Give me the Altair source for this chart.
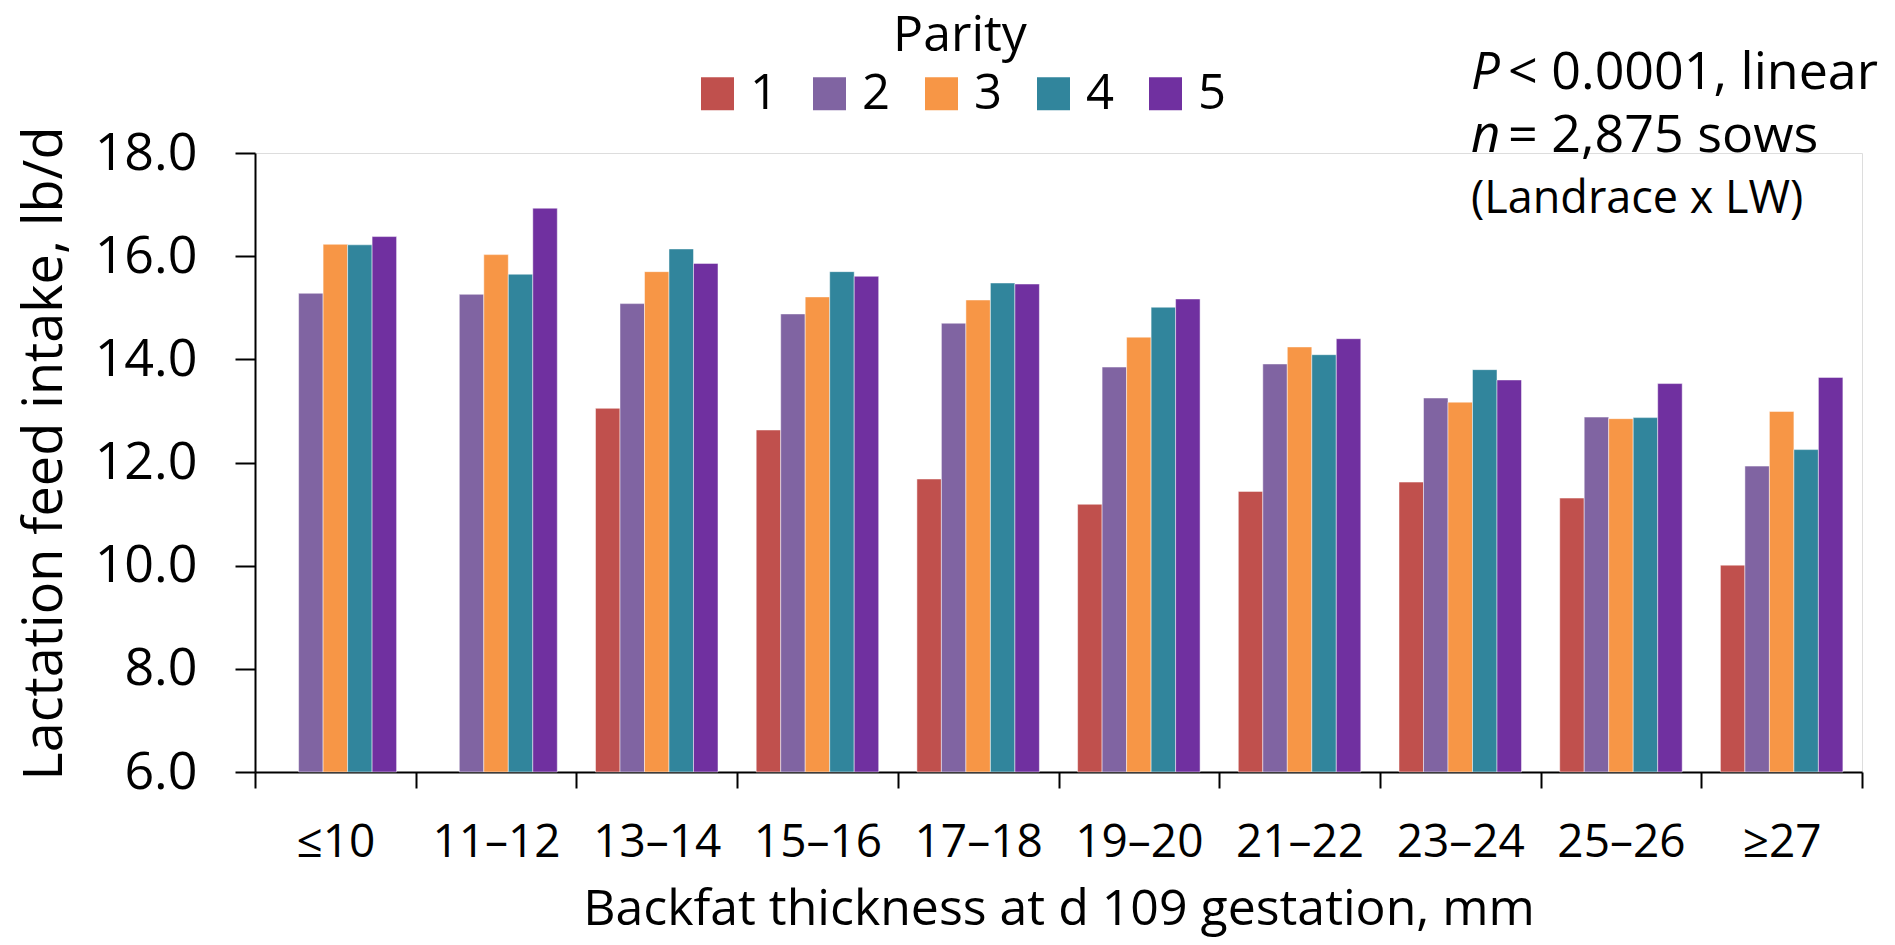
import altair as alt
import pandas as pd

categories = ["≤10", "11–12", "13–14", "15–16", "17–18", "19–20", "21–22", "23–24", "25–26", "≥27"]
parities = ["1", "2", "3", "4", "5"]
parity1 = [None, None, 13.05, 12.63, 11.68, 11.19, 11.44, 11.62, 11.31, 10.01]
parity2 = [15.28, 15.26, 15.08, 14.88, 14.70, 13.85, 13.91, 13.25, 12.88, 11.93]
parity3 = [16.23, 16.03, 15.70, 15.21, 15.15, 14.43, 14.24, 13.17, 12.85, 12.99]
parity4 = [16.22, 15.65, 16.14, 15.70, 15.48, 15.01, 14.09, 13.80, 12.87, 12.25]
parity5 = [16.38, 16.93, 15.86, 15.61, 15.46, 15.17, 14.40, 13.60, 13.53, 13.65]
colors = ["#C0504D", "#8064A2", "#F79646", "#31859C", "#7030A0"]
y_ticks = [6, 8, 10, 12, 14, 16, 18]

series = [parity1, parity2, parity3, parity4, parity5]
rows = []
for p, vals in zip(parities, series):
    for c, v in zip(categories, vals):
        if v is not None:
            rows.append({"cat": c, "parity": p, "value": v})
df = pd.DataFrame(rows)

FONT = "Open Sans"

bars = alt.Chart(df).mark_bar(stroke="white", strokeWidth=0.8, strokeOpacity=0.6).encode(
    x=alt.X(
        "cat:N",
        sort=categories,
        scale=alt.Scale(paddingInner=0, paddingOuter=0),
        axis=alt.Axis(
            title="Backfat thickness at d 109 gestation, mm",
            tickBand="extent",
            labelAngle=0,
            labelFontSize=46,
            labelFont=FONT,
            labelColor="black",
            labelBaseline="alphabetic",
            labelPadding=68,
            tickSize=16,
            tickWidth=2,
            tickColor="black",
            domainColor="black",
            domainWidth=2,
            titleFont=FONT,
            titleFontSize=50,
            titleFontWeight="normal",
            titleColor="black",
            titleBaseline="alphabetic",
            titleY=152,
        ),
    ),
    xOffset=alt.XOffset("parity:N", sort=parities,
                        scale=alt.Scale(paddingInner=0, paddingOuter=0.78)),
    y=alt.Y(
        "value:Q",
        scale=alt.Scale(domain=[6, 18], nice=False, zero=False),
        axis=alt.Axis(
            title="Lactation feed intake, lb/d",
            values=y_ticks,
            format=".1f",
            grid=False,
            labelFontSize=52,
            labelFont=FONT,
            labelColor="black",
            labelPadding=38,
            tickSize=20,
            tickWidth=2,
            tickColor="black",
            domainColor="black",
            domainWidth=2,
            titleFont=FONT,
            titleFontSize=54,
            titleFontWeight="normal",
            titleColor="black",
            titleBaseline="alphabetic",
            titleAlign="center",
            titleX=-194,
            titleY=300,
        ),
    ),
    y2=alt.datum(6),
    color=alt.Color(
        "parity:N",
        scale=alt.Scale(domain=parities, range=colors),
        legend=alt.Legend(
            title="Parity",
            orient="none",
            legendX=438,
            legendY=-142,
            direction="horizontal",
            titleAnchor="middle",
            titleFont=FONT,
            titleFontSize=50,
            titleFontWeight="normal",
            titleColor="black",
            titlePadding=8,
            labelFont=FONT,
            labelFontSize=49,
            labelColor="black",
            labelOffset=8,
            columnPadding=26,
            symbolType="square",
            symbolSize=1089,
            symbolStrokeWidth=0,
            symbolOpacity=1,
            padding=0,
        ),
    ),
)

def note(text, x, y, size, style="normal"):
    return alt.Chart(pd.DataFrame({"t": [text]})).mark_text(
        align="left", baseline="alphabetic", font=FONT, fontSize=size,
        fontStyle=style, color="black"
    ).encode(text="t:N", x=alt.value(x), y=alt.value(y))

notes = [
    note("P", 1216, -64, 51, "italic"),
    note("< 0.0001, linear", 1253, -64, 52),
    note("n", 1216, -1, 51, "italic"),
    note("= 2,875 sows", 1253, -1, 52),
    note("(Landrace x LW)", 1216, 60, 45),
]

chart = alt.layer(bars, *notes).properties(
    width=1607,
    height=619,
    autosize=alt.AutoSizeParams(type="none"),
    padding={"left": 247, "top": 145, "right": 25, "bottom": 165},
).configure_view(stroke=None).configure(background="white")

chart.save("out.html", embed_options={"renderer": "svg", "actions": False})
